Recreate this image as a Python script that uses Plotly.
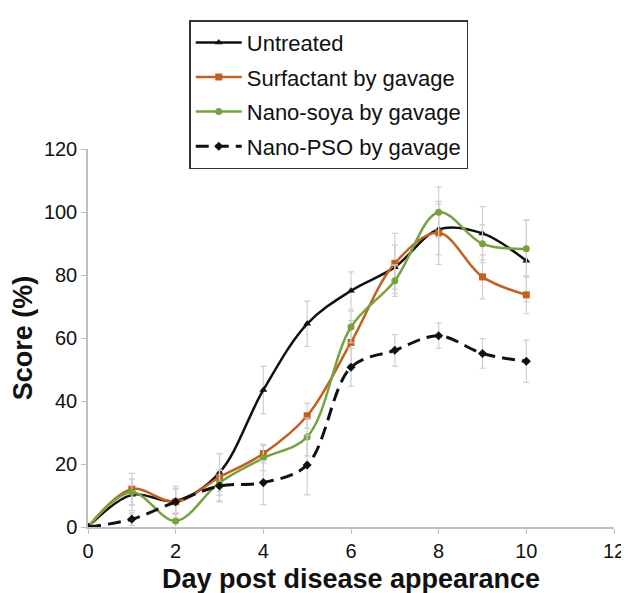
import plotly.graph_objects as go

days = [0, 1, 2, 3, 4, 5, 6, 7, 8, 9, 10]

untreated = [0, 10.2, 8.3, 17.3, 43.5, 64.5, 75.0, 82.5, 94.5, 93.2, 84.5]
untreated_sd = [0, 5, 4, 6, 7.5, 7.2, 6, 7, 8, 8.5, 13]

surfactant = [0, 12.0, 8.0, 15.8, 23.3, 35.3, 58.6, 83.7, 93.4, 79.4, 73.7]
surfactant_sd = [0, 5, 4, 7.5, 3, 4, 7, 9.5, 10, 7, 6]

nano_soya = [0, 11.0, 1.9, 14.1, 21.9, 28.6, 63.5, 78.2, 99.9, 89.9, 88.3]
nano_soya_sd = [0, 4, 2.5, 4, 4, 6, 5, 5, 8, 6, 9]

nano_pso = [0, 2.5, 8.0, 13.0, 14.1, 19.7, 50.7, 56.1, 60.7, 55.1, 52.6]
nano_pso_sd = [0, 2, 5, 5, 7, 9.5, 6, 5, 4, 4.7, 6.7]

series = [
    ('Untreated', untreated, untreated_sd, '#111111', 'triangle-up', 'solid', 2.5),
    ('Surfactant by gavage', surfactant, surfactant_sd, '#C4601E', 'square', 'solid', 2.5),
    ('Nano-soya by gavage', nano_soya, nano_soya_sd, '#76A33F', 'circle', 'solid', 2.5),
    ('Nano-PSO by gavage', nano_pso, nano_pso_sd, '#111111', 'diamond', '13px,7px', 3),
]

font = 'Liberation Sans, Arial, sans-serif'

fig = go.Figure()
for name, vals, sd, color, sym, dash, w in series:
    fig.add_trace(go.Scatter(
        x=days, y=vals, name=name, legendgroup=name, mode='lines+markers',
        line=dict(color=color, width=w, dash=dash, shape='spline', smoothing=1.0),
        marker=dict(symbol=sym, size=7, color=color),
        error_y=dict(type='data', array=sd, visible=True, color='#CFCFCF', thickness=1.2, width=3),
    ))

axis_style = dict(showline=True, linecolor='#BFBFBF', linewidth=1.5, ticks='outside',
                  tickcolor='#BFBFBF', ticklen=5, showgrid=False, zeroline=False,
                  tickfont=dict(family=font, size=20, color='#111111'))

fig.update_xaxes(range=[0, 12], dtick=2, title=dict(text='<b>Day post disease appearance</b>',
                 font=dict(family=font, size=27, color='#111111'), standoff=8), **axis_style)
fig.update_yaxes(range=[0, 120], dtick=20, title=dict(text='<b>Score (%)</b>',
                 font=dict(family=font, size=27, color='#111111'), standoff=4), **axis_style)

fig.update_layout(
    width=629, height=593,
    margin=dict(l=80, r=14, t=133, b=70),
    plot_bgcolor='white', paper_bgcolor='white',
    font=dict(family=font, color='#111111'),
    legend=dict(x=0.1925, y=1.341, xanchor='left', yanchor='top',
                traceorder='grouped', tracegroupgap=3, itemwidth=46,
                bordercolor='#333333', borderwidth=1.5, bgcolor='white',
                font=dict(family=font, size=22, color='#111111')),
)

fig.write_html('out.html')
